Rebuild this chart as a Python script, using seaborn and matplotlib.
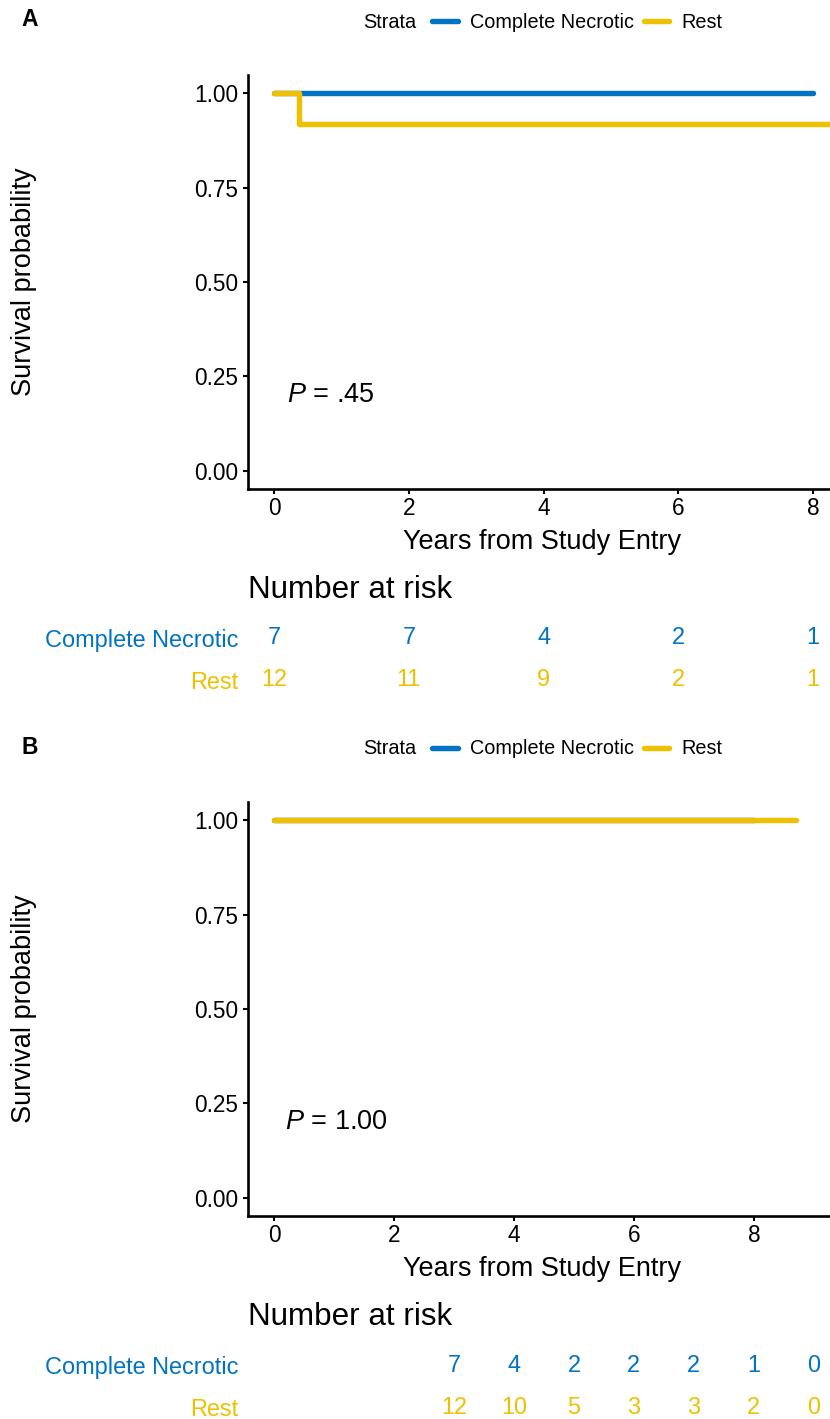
import matplotlib
matplotlib.use("Agg")
import pandas as pd
import matplotlib.pyplot as plt
import seaborn as sns
from matplotlib.lines import Line2D

# 分组与配色
strata = ["Complete Necrotic", "Rest"]
colors = ["#0073C2", "#EFC000"]

# 面板 A 生存曲线
a_necrotic_time = [0, 8.0]
a_necrotic_surv = [1.0, 1.0]
a_rest_time = [0, 0.37, 8.7]
a_rest_surv = [1.0, 0.917, 0.917]

# 面板 B 生存曲线
b_necrotic_time = [0, 8.0]
b_necrotic_surv = [1.0, 1.0]
b_rest_time = [0, 8.7]
b_rest_surv = [1.0, 1.0]

# 风险人数表
a_risk_times = [0, 2, 4, 6, 8]
a_risk_necrotic = [7, 7, 4, 2, 1]
a_risk_rest = [12, 11, 9, 2, 1]

b_risk_times = [3, 4, 5, 6, 7, 8, 9]
b_risk_necrotic = [7, 4, 2, 2, 2, 1, 0]
b_risk_rest = [12, 10, 5, 3, 3, 2, 0]

x_ticks = [0, 2, 4, 6, 8]
y_ticks = [0.0, 0.25, 0.5, 0.75, 1.0]
p_labels = [".45", "1.00"]

sns.set_theme(style="white")
plt.rcParams['font.family'] = ['Liberation Sans', 'DejaVu Sans']
plt.rcParams['mathtext.fontset'] = 'custom'
plt.rcParams['mathtext.it'] = 'Liberation Sans:italic'
plt.rcParams['mathtext.rm'] = 'Liberation Sans'
plt.rcParams['text.color'] = 'black'

W, H = 830, 1419
fig = plt.figure(figsize=(W / 100, H / 100), dpi=100)


def fx(x):
    return x / W


def fy(y):
    return 1 - y / H


def make_df(t1, s1, t2, s2):
    rows = []
    for t, s in zip(t1, s1):
        rows.append({"time": t, "surv": s, "strata": strata[0]})
    for t, s in zip(t2, s2):
        rows.append({"time": t, "surv": s, "strata": strata[1]})
    return pd.DataFrame(rows)


def draw_panel(letter, top, df, xlim, risk_times, risk_n1, risk_n2, pval):
    # top: 面板字母所在像素行
    ax_top = top + 55
    ax_bot = top + 469
    ax = fig.add_axes([fx(248), fy(ax_bot), fx(830 - 248), (ax_bot - ax_top) / H])
    sns.lineplot(data=df, x="time", y="surv", hue="strata", palette=colors,
                 hue_order=strata, drawstyle="steps-post", estimator=None,
                 linewidth=3.9, legend=False, ax=ax, sort=False)
    ax.set_xlim(xlim)
    ax.set_ylim(-0.048, 1.048)
    ax.set_xticks(x_ticks)
    ax.set_yticks(y_ticks)
    ax.set_yticklabels([f"{v:.2f}" for v in y_ticks])
    ax.set_xlabel("")
    ax.set_ylabel("")
    for side in ["top", "right"]:
        ax.spines[side].set_visible(False)
    for side in ["left", "bottom"]:
        ax.spines[side].set_color("black")
        ax.spines[side].set_linewidth(1.9)
    ax.tick_params(axis="both", length=3.6, width=1.5, color="black",
                   labelsize=16.3, labelcolor="black", direction="out",
                   bottom=True, left=True)
    ax.tick_params(axis="y", pad=3.2)
    ax.tick_params(axis="x", pad=2.5)
    ax.text(0.19, 0.2, r"$\it{P}$ = " + pval, fontsize=19.5, va="center", ha="left")

    # 标签与图例
    fig.text(fx(30), fy(top), letter, fontsize=16.5, fontweight="bold",
             ha="center", va="center")
    fig.text(fx(24), fy((ax_top + ax_bot) / 2), "Survival probability",
             rotation=90, fontsize=19.5, ha="center", va="center")
    fig.text(fx(542), fy(top + 522), "Years from Study Entry",
             fontsize=19.5, ha="center", va="center")
    fig.text(fx(390), fy(top + 2), "Strata", fontsize=14.3, ha="center", va="center")
    handles = [Line2D([0], [0], color=c, lw=3.9) for c in colors]
    fig.legend(handles, strata, loc="center left", ncol=2, frameon=False,
               bbox_to_anchor=(fx(432), fy(top + 2)), fontsize=14.3,
               handlelength=1.3, handletextpad=0.6, columnspacing=0.5,
               borderpad=0, borderaxespad=0)

    # 风险人数表
    fig.text(fx(248), fy(top + 570), "Number at risk", fontsize=22.6,
             ha="left", va="center")
    r_top = top + 597
    r_bot = top + 681
    rax = fig.add_axes([fx(248), fy(r_bot), fx(830 - 248), (r_bot - r_top) / H])
    rax.set_xlim(xlim)
    rax.set_ylim(1.5, -0.5)
    for i, counts in enumerate([risk_n1, risk_n2]):
        for t, n in zip(risk_times, counts):
            rax.text(t, i, str(n), color=colors[i], fontsize=16.9,
                     ha="center", va="center")
    rax.set_yticks([0, 1])
    rax.set_yticklabels(strata, fontsize=16.9)
    for lab, c in zip(rax.get_yticklabels(), colors):
        lab.set_color(c)
    rax.tick_params(axis="y", length=0, pad=7)
    rax.set_xticks([])
    for s in rax.spines.values():
        s.set_visible(False)
    rax.set_facecolor("none")
    return ax


df_a = make_df(a_necrotic_time, a_necrotic_surv, a_rest_time, a_rest_surv)
df_b = make_df(b_necrotic_time, b_necrotic_surv, b_rest_time, b_rest_surv)

draw_panel("A", 20, df_a, (-0.386, 8.25), a_risk_times, a_risk_necrotic,
           a_risk_rest, p_labels[0])
draw_panel("B", 747, df_b, (-0.433, 9.27), b_risk_times, b_risk_necrotic,
           b_risk_rest, p_labels[1])

fig.savefig("out.png", dpi=100)
